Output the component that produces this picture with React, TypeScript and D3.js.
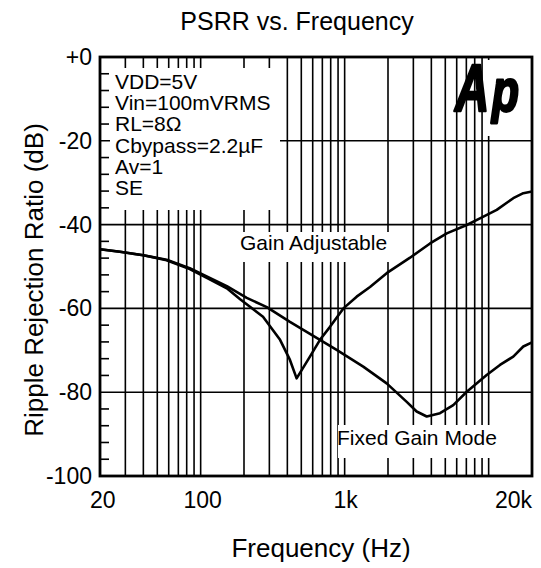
import React from 'react';
import * as d3 from 'd3';

const freqTicks = [20, 100, 1000, 20000];
const freqTickLabels = ['20', '100', '1k', '20k'];
const dbTicks = [0, -20, -40, -60, -80, -100];
const dbTickLabels = ['+0', '-20', '-40', '-60', '-80', '-100'];
const notes = ['VDD=5V', 'Vin=100mVRMS', 'RL=8Ω', 'Cbypass=2.2µF', 'Av=1', 'SE'];

const fixedFreq = [20, 27.5, 40, 58, 84, 112, 152, 209, 288, 417, 674, 880, 1346, 1958, 2698, 3163, 3714, 4594, 5680, 7047, 9688, 11980, 14826, 17400, 20000];
const fixedDb = [-45.9, -46.5, -47.3, -48.4, -50.4, -52.5, -54.7, -57.5, -59.7, -63.2, -67.5, -69.9, -73.9, -77.9, -82.3, -84.6, -85.8, -85.0, -83.1, -79.9, -75.9, -73.5, -71.5, -69.1, -68.1];

const adjFreq = [20, 27.5, 40, 58, 84, 112, 152, 188, 220, 271, 356, 417, 464, 574, 674, 791, 980, 1212, 1500, 1958, 2845, 3918, 5117, 7047, 8700, 11380, 14826, 17400, 20000];
const adjDb = [-45.9, -46.5, -47.3, -48.5, -50.6, -52.8, -55.2, -57.8, -59.6, -62.0, -67.5, -72.3, -76.7, -71.5, -67.5, -64.4, -60.0, -57.2, -54.9, -51.6, -47.9, -44.5, -42.1, -40.1, -38.5, -36.5, -33.7, -32.5, -32.1];

const FONT = 'Liberation Sans, Arial, Helvetica, sans-serif';

export default function App() {
  const L = 100, R = 532, T = 57, B = 476;
  const x = d3.scaleLog().domain([20, 20000]).range([L, R]);
  const y = d3.scaleLinear().domain([0, -100]).range([T, B]);
  const gridFreqs = x.ticks().filter((f) => f > 20 && f < 20000);
  const minorDb = d3.range(0, -100, -4).filter((d) => d !== 0 && d % 20 !== 0);
  const line = d3.line<[number, number]>().x((d) => x(d[0])).y((d) => y(d[1]));
  const fixedPts = fixedFreq.map((f, i) => [f, fixedDb[i]] as [number, number]);
  const adjPts = adjFreq.map((f, i) => [f, adjDb[i]] as [number, number]);
  const xLabelAnchor = ['start', 'middle', 'middle', 'end'];
  const xLabelX = [x(20) - 10, x(100) + 2, x(1000) + 1, x(20000)];

  return (
    <svg width={541} height={568} style={{ position: 'absolute', left: 0, top: 0, background: '#fff' }} fontFamily={FONT}>
      <rect x={0} y={0} width={541} height={568} fill="#fff" />
      <text x={297} y={30} textAnchor="middle" fontSize={25}>PSRR vs. Frequency</text>

      {/* vertical grid */}
      {gridFreqs.map((f) => (
        <line key={'v' + f} x1={x(f)} x2={x(f)} y1={T} y2={B} stroke="#000" strokeWidth={1.6} />
      ))}
      {/* horizontal grid */}
      {dbTicks.filter((d) => d !== 0 && d !== -100).map((d) => (
        <line key={'h' + d} x1={L} x2={R} y1={y(d)} y2={y(d)} stroke="#000" strokeWidth={1.6} />
      ))}

      {/* label backgrounds */}
      <rect x={110} y={68} width={170} height={142} fill="#fff" />
      <rect x={236} y={232} width={157} height={30} fill="#fff" />
      <rect x={338} y={425} width={174} height={33} fill="#fff" />
      <rect x={486} y={60} width={44} height={76} fill="#fff" />

      {/* minor ticks */}
      {minorDb.map((d) => (
        <line key={'m' + d} x1={L} x2={L + 9} y1={y(d)} y2={y(d)} stroke="#000" strokeWidth={1.6} />
      ))}

      {/* annotations */}
      {notes.map((t, i) => (
        <text key={t} x={115} y={89 + i * 21.2} fontSize={21}>{t}</text>
      ))}
      <text x={240} y={250} fontSize={21}>Gain Adjustable</text>
      <text x={337} y={445} fontSize={21}>Fixed Gain Mode</text>

      {/* logo */}
      <g fontWeight="bold" fontStyle="italic" fontFamily={FONT} fill="#000" stroke="#000" strokeWidth={2.4} strokeLinejoin="round">
        <text x={0} y={0} fontSize={66} transform="translate(455,111) scale(0.72,1)">A</text>
        <text x={0} y={0} fontSize={52} transform="translate(492,111) scale(0.85,1.15)">p</text>
      </g>

      {/* curves */}
      <path d={line(fixedPts) || ''} fill="none" stroke="#000" strokeWidth={2.6} strokeLinejoin="round" />
      <path d={line(adjPts) || ''} fill="none" stroke="#000" strokeWidth={2.6} strokeLinejoin="round" />

      {/* border */}
      <rect x={L} y={T} width={R - L} height={B - T} fill="none" stroke="#000" strokeWidth={2.8} />

      {/* y tick labels */}
      {dbTicks.map((d, i) => (
        <text key={'yl' + d} x={92} y={y(d) + 8} textAnchor="end" fontSize={23}>{dbTickLabels[i]}</text>
      ))}
      {/* x tick labels */}
      {freqTicks.map((f, i) => (
        <text key={'xl' + f} x={xLabelX[i]} y={508} textAnchor={xLabelAnchor[i]} fontSize={23}>{freqTickLabels[i]}</text>
      ))}

      <text x={321} y={557} textAnchor="middle" fontSize={26}>Frequency (Hz)</text>
      <text transform={`translate(43,280) rotate(-90)`} textAnchor="middle" fontSize={26}>Ripple Rejection Ratio (dB)</text>
    </svg>
  );
}
